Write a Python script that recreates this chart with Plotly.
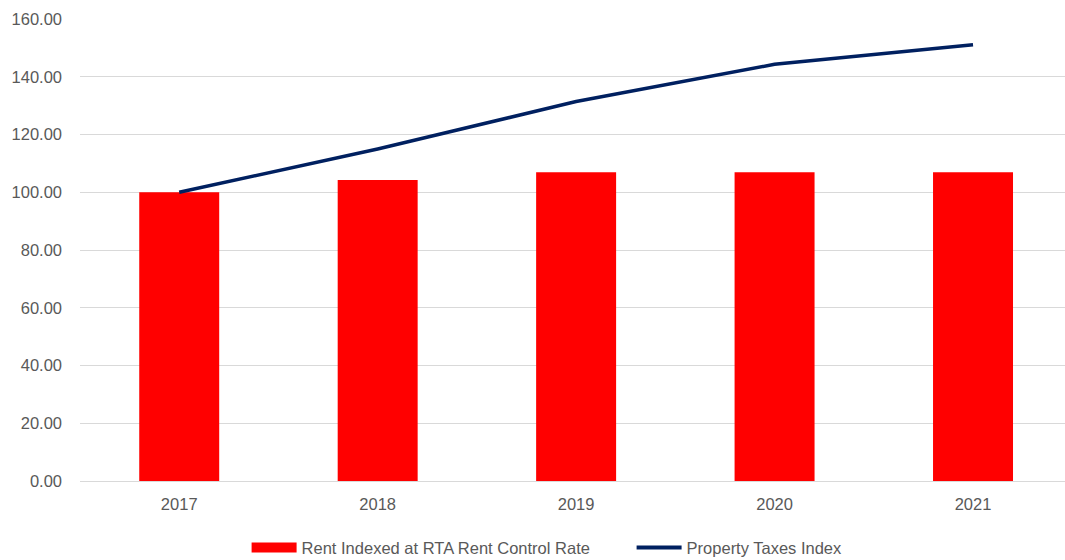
import plotly.graph_objects as go

# Index values (2017 = 100)
years = ["2017", "2018", "2019", "2020", "2021"]
rent_index = [100.0, 104.2, 106.9, 106.9, 106.9]
property_tax_index = [100.0, 115.0, 131.4, 144.3, 151.1]
y_ticks = [0, 20, 40, 60, 80, 100, 120, 140, 160]

FONT = "Liberation Sans"
GREY = "#595959"
RED = "#ff0000"
NAVY = "#002060"
RENT_NAME = "Rent Indexed at RTA Rent Control Rate"
TAX_NAME = "Property Taxes Index"

fig = go.Figure()

fig.add_trace(go.Bar(
    x=years,
    y=rent_index,
    name=RENT_NAME,
    marker=dict(color=RED, line=dict(width=0)),
    showlegend=False,
))

fig.add_trace(go.Scatter(
    x=years,
    y=property_tax_index,
    name=TAX_NAME,
    mode="lines",
    line=dict(color=NAVY, width=3.5),
    showlegend=False,
))

# Legend entries: wide red block for the bars, navy stroke for the line
fig.add_trace(go.Scatter(
    x=[None], y=[None], name=RENT_NAME, mode="lines",
    line=dict(color=RED, width=11),
))
fig.add_trace(go.Scatter(
    x=[None], y=[None], name=TAX_NAME, mode="lines",
    line=dict(color=NAVY, width=4),
))

fig.update_layout(
    width=1065,
    height=560,
    margin=dict(l=80, r=0, t=19, b=79, autoexpand=False),
    plot_bgcolor="white",
    paper_bgcolor="white",
    bargap=0.597,
    font=dict(family=FONT, size=16.5, color=GREY),
    showlegend=True,
    legend=dict(
        orientation="h",
        x=0.560,
        xanchor="center",
        y=-0.1445,
        yanchor="middle",
        itemwidth=45,
        entrywidth=325,
        entrywidthmode="pixels",
        font=dict(family=FONT, size=16.5, color=GREY),
        traceorder="normal",
    ),
)

fig.update_xaxes(
    type="category",
    range=[-0.5, 4.4635],
    showgrid=False,
    showline=False,
    ticks="",
    ticklabelstandoff=11,
    tickfont=dict(family=FONT, size=16.5, color=GREY),
)

fig.update_yaxes(
    range=[0, 160],
    tickvals=y_ticks,
    tickformat=".2f",
    showgrid=True,
    gridcolor="#d9d9d9",
    gridwidth=1,
    zeroline=True,
    zerolinecolor="#d9d9d9",
    zerolinewidth=1,
    showline=False,
    ticks="",
    ticklabelstandoff=17,
    tickfont=dict(family=FONT, size=16.5, color=GREY),
)

fig.write_html("out.html")
